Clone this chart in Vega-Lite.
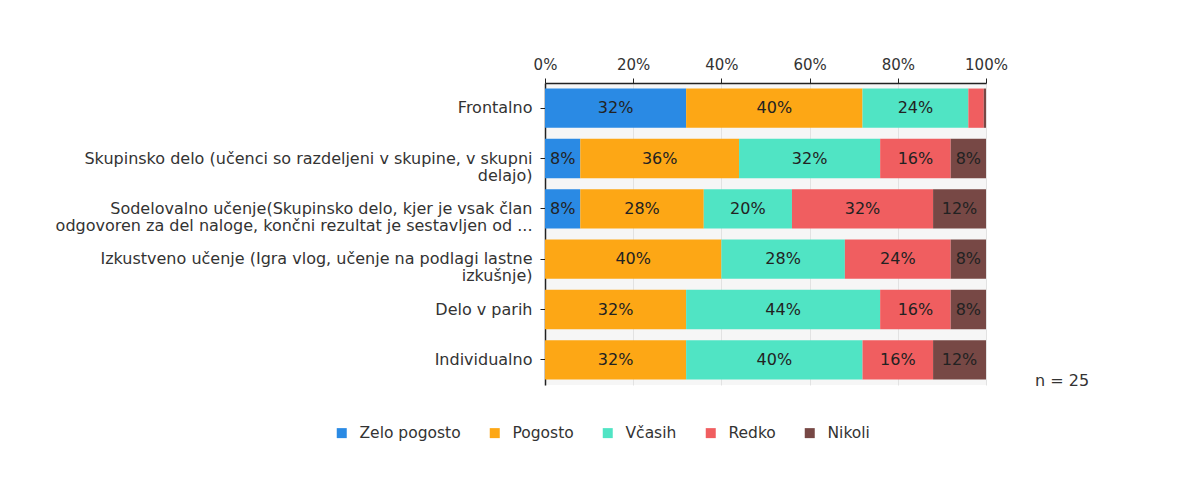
{
  "$schema": "https://vega.github.io/schema/vega-lite/v6.json",
  "width": 441,
  "height": 302,
  "autosize": {"type": "none"},
  "padding": {"left": 545, "top": 83, "right": 207, "bottom": 108},
  "background": "white",
  "config": {
    "font": "DejaVu Sans",
    "view": {"fill": "#f6f6f6", "stroke": null}
  },
  "data": {
    "values": [
      {"metoda": "Frontalno", "odgovor": "Zelo pogosto", "red": 1, "delez": 0.32},
      {"metoda": "Frontalno", "odgovor": "Pogosto", "red": 2, "delez": 0.40},
      {"metoda": "Frontalno", "odgovor": "Včasih", "red": 3, "delez": 0.24},
      {"metoda": "Frontalno", "odgovor": "Redko", "red": 4, "delez": 0.035},
      {"metoda": "Frontalno", "odgovor": "Nikoli", "red": 5, "delez": 0.005},
      {"metoda": "Skupinsko delo (učenci so razdeljeni v skupine, v skupni|delajo)", "odgovor": "Zelo pogosto", "red": 1, "delez": 0.08},
      {"metoda": "Skupinsko delo (učenci so razdeljeni v skupine, v skupni|delajo)", "odgovor": "Pogosto", "red": 2, "delez": 0.36},
      {"metoda": "Skupinsko delo (učenci so razdeljeni v skupine, v skupni|delajo)", "odgovor": "Včasih", "red": 3, "delez": 0.32},
      {"metoda": "Skupinsko delo (učenci so razdeljeni v skupine, v skupni|delajo)", "odgovor": "Redko", "red": 4, "delez": 0.16},
      {"metoda": "Skupinsko delo (učenci so razdeljeni v skupine, v skupni|delajo)", "odgovor": "Nikoli", "red": 5, "delez": 0.08},
      {"metoda": "Sodelovalno učenje(Skupinsko delo, kjer je vsak član|odgovoren za del naloge, končni rezultat je sestavljen od ...", "odgovor": "Zelo pogosto", "red": 1, "delez": 0.08},
      {"metoda": "Sodelovalno učenje(Skupinsko delo, kjer je vsak član|odgovoren za del naloge, končni rezultat je sestavljen od ...", "odgovor": "Pogosto", "red": 2, "delez": 0.28},
      {"metoda": "Sodelovalno učenje(Skupinsko delo, kjer je vsak član|odgovoren za del naloge, končni rezultat je sestavljen od ...", "odgovor": "Včasih", "red": 3, "delez": 0.20},
      {"metoda": "Sodelovalno učenje(Skupinsko delo, kjer je vsak član|odgovoren za del naloge, končni rezultat je sestavljen od ...", "odgovor": "Redko", "red": 4, "delez": 0.32},
      {"metoda": "Sodelovalno učenje(Skupinsko delo, kjer je vsak član|odgovoren za del naloge, končni rezultat je sestavljen od ...", "odgovor": "Nikoli", "red": 5, "delez": 0.12},
      {"metoda": "Izkustveno učenje (Igra vlog, učenje na podlagi lastne|izkušnje)", "odgovor": "Pogosto", "red": 2, "delez": 0.40},
      {"metoda": "Izkustveno učenje (Igra vlog, učenje na podlagi lastne|izkušnje)", "odgovor": "Včasih", "red": 3, "delez": 0.28},
      {"metoda": "Izkustveno učenje (Igra vlog, učenje na podlagi lastne|izkušnje)", "odgovor": "Redko", "red": 4, "delez": 0.24},
      {"metoda": "Izkustveno učenje (Igra vlog, učenje na podlagi lastne|izkušnje)", "odgovor": "Nikoli", "red": 5, "delez": 0.08},
      {"metoda": "Delo v parih", "odgovor": "Pogosto", "red": 2, "delez": 0.32},
      {"metoda": "Delo v parih", "odgovor": "Včasih", "red": 3, "delez": 0.44},
      {"metoda": "Delo v parih", "odgovor": "Redko", "red": 4, "delez": 0.16},
      {"metoda": "Delo v parih", "odgovor": "Nikoli", "red": 5, "delez": 0.08},
      {"metoda": "Individualno ", "odgovor": "Pogosto", "red": 2, "delez": 0.32},
      {"metoda": "Individualno ", "odgovor": "Včasih", "red": 3, "delez": 0.40},
      {"metoda": "Individualno ", "odgovor": "Redko", "red": 4, "delez": 0.16},
      {"metoda": "Individualno ", "odgovor": "Nikoli", "red": 5, "delez": 0.12}
    ]
  },
  "transform": [
    {"stack": "delez", "groupby": ["metoda"], "sort": [{"field": "red", "order": "ascending"}], "as": ["x0", "x1"]},
    {"calculate": "(datum.x0 + datum.x1) / 2", "as": "xm"}
  ],
  "encoding": {
    "y": {
      "field": "metoda",
      "type": "nominal",
      "sort": [
        "Frontalno",
        "Skupinsko delo (učenci so razdeljeni v skupine, v skupni|delajo)",
        "Sodelovalno učenje(Skupinsko delo, kjer je vsak član|odgovoren za del naloge, končni rezultat je sestavljen od ...",
        "Izkustveno učenje (Igra vlog, učenje na podlagi lastne|izkušnje)",
        "Delo v parih",
        "Individualno "
      ],
      "scale": {"paddingInner": 0.22, "paddingOuter": 0.11},
      "axis": {
        "title": null,
        "labelExpr": "split(datum.label, '|')",
        "labelFontSize": 16,
        "labelColor": "#333333",
        "labelLimit": 700,
        "labelLineHeight": 17,
        "labelPadding": 8,
        "tickSize": 5,
        "tickColor": "#222222",
        "domainColor": "#222222",
        "domainWidth": 1.5,
        "grid": false
      }
    }
  },
  "layer": [
    {
      "mark": {"type": "bar"},
      "encoding": {
        "x": {
          "field": "x0",
          "type": "quantitative",
          "scale": {"domain": [0, 1], "nice": false},
          "axis": {
            "orient": "top",
            "title": null,
            "format": ".0%",
            "values": [0, 0.2, 0.4, 0.6, 0.8, 1],
            "labelFontSize": 15,
            "labelColor": "#333333",
            "labelPadding": 6,
            "labelFlush": false,
            "tickSize": 5,
            "tickColor": "#222222",
            "domainColor": "#222222",
            "domainWidth": 1.5,
            "grid": true,
            "gridColor": "#e2e2e2"
          }
        },
        "x2": {"field": "x1"},
        "color": {
          "field": "odgovor",
          "type": "nominal",
          "scale": {
            "domain": ["Zelo pogosto", "Pogosto", "Včasih", "Redko", "Nikoli"],
            "range": ["#2a8ae4", "#fda715", "#50e4c4", "#f05e60", "#774845"]
          },
          "legend": {
            "title": null,
            "orient": "none",
            "direction": "horizontal",
            "legendX": -211,
            "legendY": 342,
            "symbolType": "square",
            "symbolSize": 100,
            "symbolStrokeWidth": 0,
            "labelFontSize": 15.5,
            "labelColor": "#333333",
            "labelOffset": 10,
            "columnPadding": 26
          }
        }
      }
    },
    {
      "transform": [{"filter": "datum.delez >= 0.075"}],
      "mark": {"type": "text", "fontSize": 16, "color": "#222222"},
      "encoding": {
        "x": {"field": "xm", "type": "quantitative"},
        "text": {"field": "delez", "type": "quantitative", "format": ".0%"}
      }
    },
    {
      "data": {"values": [{"oznaka": "n = 25"}]},
      "mark": {"type": "text", "fontSize": 16, "color": "#333333", "align": "left", "dx": 49, "dy": 21},
      "encoding": {
        "x": {"datum": 1, "type": "quantitative"},
        "y": {"datum": "Individualno ", "type": "nominal"},
        "text": {"field": "oznaka", "type": "nominal"}
      }
    }
  ]
}
